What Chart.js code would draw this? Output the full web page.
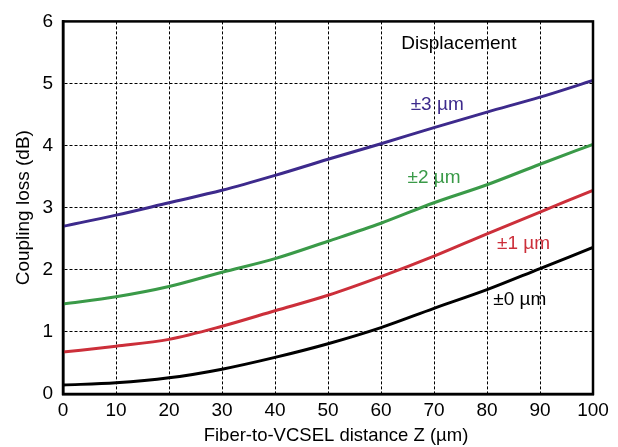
<!DOCTYPE html>
<html><head><meta charset="utf-8">
<script src="https://cdn.jsdelivr.net/npm/chart.js@4"></script>
<style>html,body{margin:0;padding:0;background:#fff}#w{width:618px;height:447px}</style>
</head><body><div id="w"><canvas id="c" width="618" height="447"></canvas></div>
<script>
const distances = [0,10,20,30,40,50,60,70,80,90,100];
const loss3um = [2.70,2.88,3.08,3.28,3.52,3.78,4.03,4.29,4.54,4.78,5.05];
const loss2um = [1.45,1.565,1.73,1.96,2.18,2.46,2.75,3.08,3.37,3.70,4.02];
const loss1um = [0.675,0.77,0.88,1.09,1.34,1.59,1.89,2.22,2.58,2.93,3.28];
const loss0um = [0.145,0.18,0.26,0.40,0.59,0.81,1.07,1.38,1.68,2.02,2.36];
const seriesNames = ['\u00b13 \u00b5m','\u00b12 \u00b5m','\u00b11 \u00b5m','\u00b10 \u00b5m'];
const seriesColors = ['#3d2a8c','#3a9a48','#cc2f3a','#000000'];
const labelX = [70.6,70,86.9,86.2];
const labelY = [4.66,3.48,2.42,1.52];
const headerText = 'Displacement';
const headerPos = [74.7,5.64];
const xTitle = 'Fiber-to-VCSEL distance Z (\u00b5m)';
const yTitle = 'Coupling loss (dB)';
const yTicks = [0,1,2,3,4,5,6];
const xTicks = [0,10,20,30,40,50,60,70,80,90,100];

const FONT = "'Liberation Sans', Arial, Helvetica, sans-serif";
const allSeries = [loss3um, loss2um, loss1um, loss0um];

const framePlugin = {
  id:'frame',
  afterDraw(chart){
    const {ctx, chartArea:a, scales:{x,y}} = chart;
    ctx.save();
    ctx.strokeStyle='#000'; ctx.lineWidth=2.5;
    ctx.strokeRect(a.left, a.top, a.right-a.left, a.bottom-a.top);
    ctx.font = "19px "+FONT;
    ctx.textAlign='center'; ctx.textBaseline='middle';
    seriesNames.forEach((n,i)=>{
      ctx.fillStyle = seriesColors[i];
      ctx.fillText(n, x.getPixelForValue(labelX[i]), y.getPixelForValue(labelY[i]));
    });
    ctx.fillStyle='#000';
    ctx.fillText(headerText, x.getPixelForValue(headerPos[0]), y.getPixelForValue(headerPos[1]));
    // axis titles
    ctx.font = "18.5px "+FONT;
    ctx.fillText(xTitle, (a.left+a.right)/2 + 8, a.bottom + 42);
    ctx.font = "19px "+FONT;
    ctx.translate(23.5, (a.top+a.bottom)/2);
    ctx.rotate(-Math.PI/2);
    ctx.fillText(yTitle, 0, 0);
    ctx.restore();
  }
};

new Chart(document.getElementById('c'), {
  type:'line',
  data:{
    datasets: allSeries.map((s,i)=>({
      label: seriesNames[i],
      data: s.map((v,j)=>({x:distances[j], y:v})),
      borderColor: seriesColors[i],
      borderWidth: 3,
      pointRadius: 0,
      cubicInterpolationMode: 'monotone',
      fill:false
    }))
  },
  options:{
    responsive:false, animation:false,
    layout:{padding:{left:0,right:25,top:21,bottom:0}},
    plugins:{legend:{display:false}, tooltip:{enabled:false}},
    scales:{
      x:{
        type:'linear', min:0, max:100,
        afterBuildTicks(s){ s.ticks = xTicks.map(v=>({value:v})); },
        afterFit(s){ s.height = 53; },
        grid:{color:'#000', lineWidth:1, drawTicks:false},
        border:{display:true, color:'#000', width:2.5, dash:[3,2]},
        ticks:{color:'#000', font:{family:FONT, size:19}, padding:5, maxRotation:0}
      },
      y:{
        type:'linear', min:0, max:6,
        afterBuildTicks(s){ s.ticks = yTicks.map(v=>({value:v})); },
        afterFit(s){ s.width = 63; },
        grid:{color:'#000', lineWidth:1, drawTicks:false},
        border:{display:true, color:'#000', width:2.5, dash:[3,2]},
        ticks:{color:'#000', font:{family:FONT, size:19}, padding:10}
      }
    }
  },
  plugins:[framePlugin]
});
</script></body></html>
